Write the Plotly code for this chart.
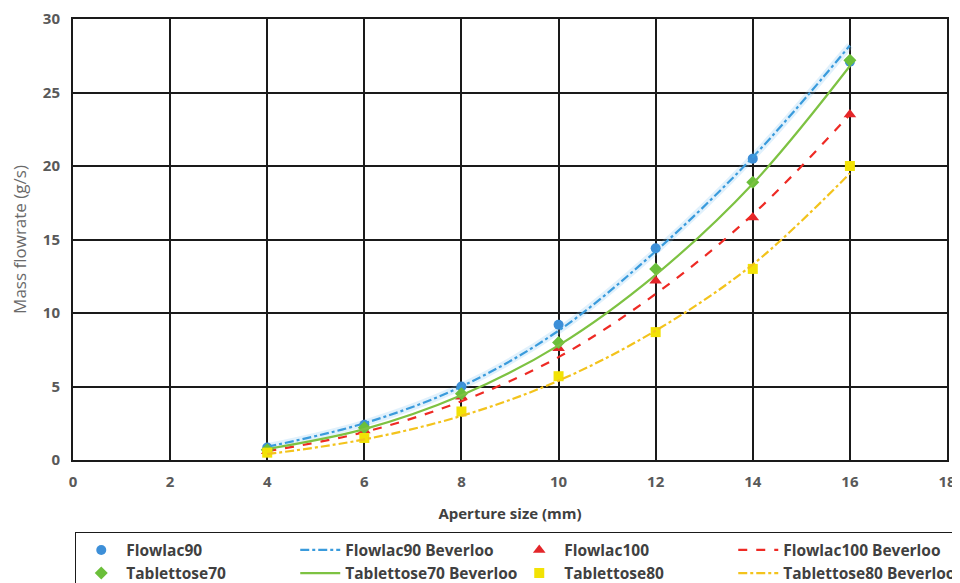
import plotly.graph_objects as go

aperture = [4, 6, 8, 10, 12, 14, 16]

flowlac90 = [0.85, 2.4, 5.0, 9.2, 14.4, 20.5, 27.1]
flowlac90_bev = [0.9, 2.5, 5.0, 8.8, 14.2, 20.6, 28.2]
tablettose70 = [0.7, 2.2, 4.5, 8.0, 13.0, 18.9, 27.2]
tablettose70_bev = [0.75, 2.1, 4.4, 7.8, 12.6, 18.8, 26.8]
flowlac100 = [0.6, 2.0, 4.3, 7.6, 12.2, 16.5, 23.5]
flowlac100_bev = [0.6, 1.9, 4.0, 7.0, 11.3, 16.7, 23.5]
tablettose80 = [0.5, 1.5, 3.3, 5.7, 8.7, 13.0, 20.0]
tablettose80_bev = [0.4, 1.4, 3.0, 5.4, 8.8, 13.3, 19.5]

x_ticks = [0, 2, 4, 6, 8, 10, 12, 14, 16, 18]
y_ticks = [0, 5, 10, 15, 20, 25, 30]

fig = go.Figure()

def markers(name, y, color, symbol, size=10):
    fig.add_trace(go.Scatter(x=aperture, y=y, name=name, mode="markers",
                             marker=dict(color=color, symbol=symbol, size=size)))

def line(name, y, color, dash, width=2.2):
    fig.add_trace(go.Scatter(x=aperture, y=y, name=name, mode="lines",
                             line=dict(color=color, dash=dash, width=width, shape="spline")))

fig.add_trace(go.Scatter(x=aperture, y=flowlac90_bev, mode="lines", showlegend=False,
                         hoverinfo="skip",
                         line=dict(color="rgba(120,190,240,0.22)", width=7, shape="spline")))
markers("Flowlac90", flowlac90, "#3D8FD8", "circle")
line("Flowlac90 Beverloo", flowlac90_bev, "#3A9BDC", "dashdot")
markers("Flowlac100", flowlac100, "#E3262A", "triangle-up", 11)
line("Flowlac100 Beverloo", flowlac100_bev, "#EE2A24", "dash")
markers("Tablettose70", tablettose70, "#6BBF3A", "diamond", 10)
line("Tablettose70 Beverloo", tablettose70_bev, "#7DC242", "solid")
markers("Tablettose80", tablettose80, "#F2E205", "square", 10)
line("Tablettose80 Beverloo", tablettose80_bev, "#F3C31C", "dashdot")

fig.update_layout(
    width=952, height=575,
    margin=dict(l=65, r=13, t=11, b=123, autoexpand=False),
    plot_bgcolor="white", paper_bgcolor="white",
    font=dict(family="Open Sans", color="#404040"),
    xaxis=dict(range=[0, 18], tickvals=x_ticks, showgrid=True, gridcolor="#1a1a1a",
               gridwidth=1.5, zeroline=False, showline=True, linecolor="#1a1a1a",
               linewidth=2, mirror=True, ticks="", automargin=False, ticklabelstandoff=7,
               tickfont=dict(family="Open Sans", size=15, color="#595959", weight="bold"),
               title=dict(text="Aperture size (mm)", standoff=18,
                          font=dict(family="Open Sans", size=15, color="#404040", weight="bold"))),
    yaxis=dict(range=[0, 30], tickvals=y_ticks, showgrid=True, gridcolor="#1a1a1a",
               gridwidth=1.5, zeroline=False, showline=True, linecolor="#1a1a1a",
               linewidth=2, mirror=True, ticks="", automargin=False, ticklabelstandoff=8,
               tickfont=dict(family="Open Sans", size=15, color="#595959", weight="bold"),
               title=dict(text="Mass flowrate (g/s)", standoff=14,
                          font=dict(family="Open Sans", size=17, color="#6a6a6a"))),
    legend=dict(orientation="h", x=0.002, xanchor="left", y=-0.163, yanchor="top",
                entrywidth=164, entrywidthmode="pixels",
                bordercolor="#1a1a1a", borderwidth=1.5, bgcolor="white",
                font=dict(family="Open Sans", size=15.5, color="#404040", weight="bold"),
                tracegroupgap=0, itemwidth=40),
)

fig.write_html("out.html")
